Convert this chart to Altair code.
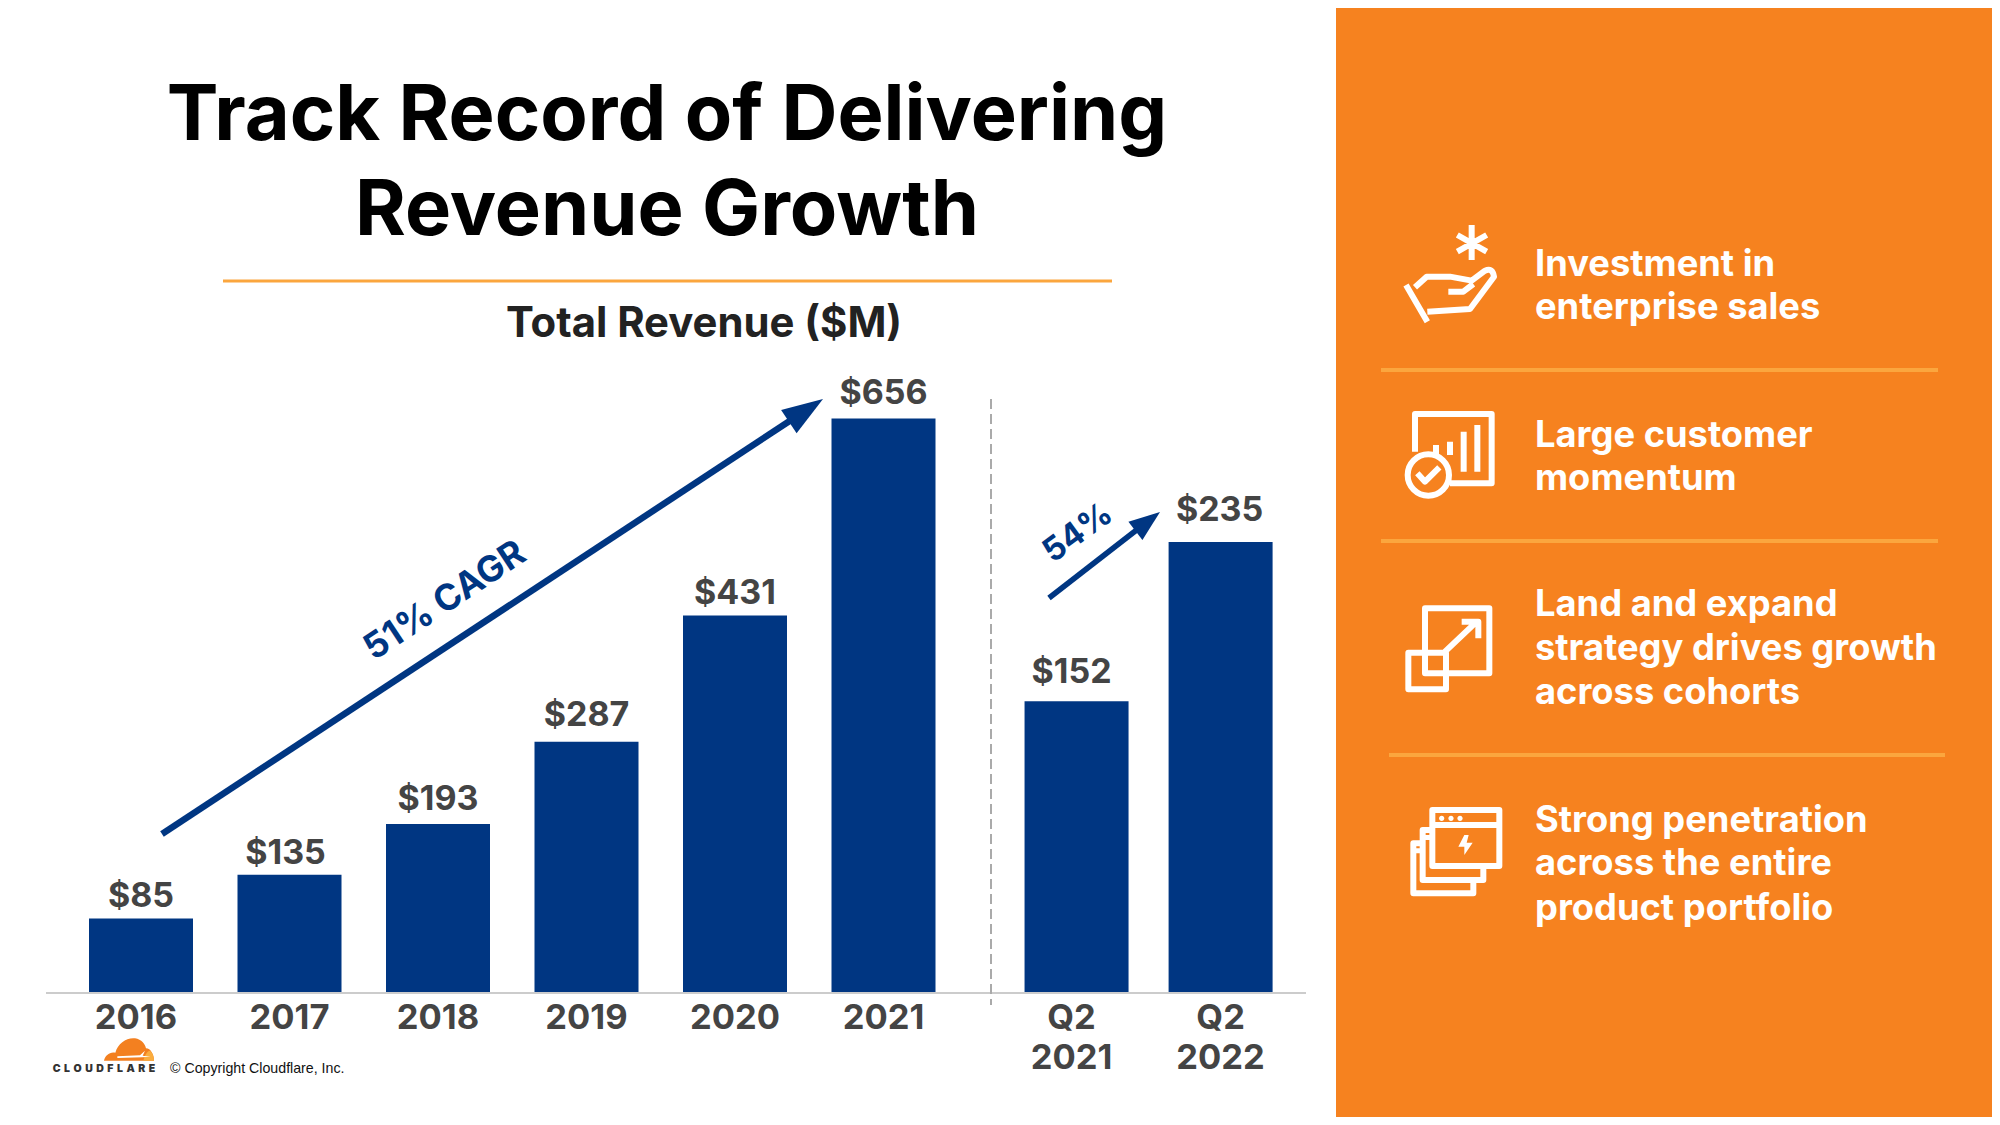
import altair as alt
import pandas as pd

# ---- values ----
years = ["2016", "2017", "2018", "2019", "2020", "2021"]
annual_revenue = [85, 135, 193, 287, 431, 656]
annual_slots = [0, 1, 2, 3, 4, 5]
quarters = ["Q2\n2021", "Q2\n2022"]
quarter_revenue = [152, 235]
quarter_slots = [6.30, 7.27]

# small hand placements of the labels in the reference, in pixels
annual_tick_nudge = [-5, 0, 0, 0, 0, 0]
quarter_tick_nudge = [-5, 0]
annual_value_nudge_x = [0, -4, 0, 0, 0, 0]
quarter_value_nudge_x = [-5, -1]
annual_value_nudge_y = [-1.3, -2.5, 1.3, 2.5, -1.3, 1.3]
quarter_value_nudge_y = [-1.3, 1.3]

# ---- page geometry: the chart starts after the page's 8px margin ----
OX, OY = 8, 8
W, H = 1984, 1109
BASE = 993 - OY
STEP = 148.5
ANNUAL_TOP = 418.5
QUARTER_TOP = 542
BLUE = "#003682"
GREY = "#444444"
ORANGE = "#F6821F"
LINE = "#FBA63E"
FONT = "Inter"

one = alt.Data(values=[{"a": 1}])

x_scale = alt.Scale(domain=[0, 7], range=[141 - OX, 141 - OX + 7 * STEP], zero=False, nice=False, padding=0)
y_annual = alt.Scale(domain=[0, 656], range=[BASE, ANNUAL_TOP - OY], zero=False, nice=False)
y_quarter = alt.Scale(domain=[0, 235], range=[BASE, QUARTER_TOP - OY], zero=False, nice=False)


def txt(s, x, y, size, color, align="center", weight=700, font=FONT, angle=0, **kw):
    return alt.Chart(alt.Data(values=[{"t": s}])).mark_text(
        fontSize=size, color=color, align=align, baseline="middle", fontWeight=weight,
        font=font, angle=angle, **kw
    ).encode(x=alt.value(x - OX), y=alt.value(y - OY), text="t:N")


def rule(x1, y1, x2, y2, color, width, **kw):
    return alt.Chart(one).mark_rule(color=color, strokeWidth=width, **kw).encode(
        x=alt.value(x1 - OX), x2=alt.value(x2 - OX), y=alt.value(y1 - OY), y2=alt.value(y2 - OY)
    )


def head(tipx, tipy, length, width, angle):
    path = f"M0,0 L{-width / 2},{length} L{width / 2},{length} Z"
    return alt.Chart(one).mark_point(
        shape=path, filled=True, fill=BLUE, size=4, angle=angle, opacity=1, strokeWidth=0
    ).encode(x=alt.value(tipx - OX), y=alt.value(tipy - OY))


def icon(path, ox, oy, filled=False, color="white", width=6):
    kw = dict(filled=True, fill=color, strokeWidth=0) if filled else dict(filled=False, stroke=color, strokeWidth=width)
    return alt.Chart(one).mark_point(
        shape=path, size=4 / 9, opacity=1, strokeJoin="round", **kw
    ).encode(x=alt.value(ox - OX), y=alt.value(oy - OY))


# ---- icons at 3x, drawn at 1/3 scale ----
HAND = ("M108,225 L172,335 M135,232 L170,200 L240,200 L305,212 L345,182 Q368,172 372,200 L300,297 L172,305 "
        "M235,245 L280,245 L310,222 M305,45 L305,150 M262,75 L350,125 M350,75 L262,125")
CHART = ("M135,725 L135,612 L365,612 L365,820 L240,820 M198,705 L198,735 M240,695 L240,735 M281,665 L281,785 "
         "M322,645 L322,785 M113,795 A62,62 0 1 1 237,795 A62,62 0 1 1 113,795 M142,790 L165,815 L208,772")
EXPAND = ("M165,55 L358,55 L358,250 L165,250 Z M115,188 L228,188 L228,298 L115,298 Z M225,185 L320,95 "
          "M275,95 L325,95 L325,145")
WINDOWS = ("M187,660 L388,660 L388,828 L187,828 Z M187,705 L388,705 M187,720 L158,720 L158,870 L340,870 L340,830 "
           "M158,760 L130,760 L130,910 L310,910 L310,870 M175,735 L175,750 M147,775 L147,790")
WINDOWS_FILL = ("M207,685 A8,8 0 1 1 223,685 A8,8 0 1 1 207,685 M235,685 A8,8 0 1 1 251,685 A8,8 0 1 1 235,685 "
                "M262,685 A8,8 0 1 1 278,685 A8,8 0 1 1 262,685 "
                "M283,735 L265,770 L283,770 L283,795 L308,758 L290,758 L296,735 Z")
CLOUD = ("M222,242 C225,226 240,214 256,218 C264,190 290,172 315,175 C335,178 345,192 348,205 "
         "C362,205 372,224 372,242 Z")
CLOUD_LIGHT = "M340,242 C344,226 352,212 360,212 C368,218 372,230 372,242 Z"
CLOUD_STREAK = "M262,229 L330,226 L345,212 L338,227 L362,230 L336,232 L262,234 Z"

# ---- background and frame ----
panel = alt.Chart(one).mark_rect(color=ORANGE).encode(
    x=alt.value(1336 - OX), x2=alt.value(W), y=alt.value(0), y2=alt.value(H)
)

layers = [panel]

# ---- headline ----
layers += [
    txt("Track Record of Delivering", 667, 117, 77.5, "#000000"),
    txt("Revenue Growth", 667, 212, 77.5, "#000000"),
    rule(223, 281, 1112, 281, LINE, 3),
    txt("Total Revenue ($M)", 704, 324, 41.8, "#222222"),
]


# ---- bars ----
def table(labels, revs, slots, tick_nudge, vx, vy, px_per_unit):
    df = pd.DataFrame({"label": labels, "rev": revs, "slot": slots})
    df["txt"] = ["$" + str(v) for v in revs]
    df["tick_slot"] = [s + n / STEP for s, n in zip(slots, tick_nudge)]
    df["value_slot"] = [s + n / STEP for s, n in zip(slots, vx)]
    df["value_level"] = [r + n / px_per_unit for r, n in zip(revs, vy)]
    return df


annual = table(years, annual_revenue, annual_slots, annual_tick_nudge,
               annual_value_nudge_x, annual_value_nudge_y, (993 - ANNUAL_TOP) / 656)
quarter = table(quarters, quarter_revenue, quarter_slots, quarter_tick_nudge,
                quarter_value_nudge_x, quarter_value_nudge_y, (993 - QUARTER_TOP) / 235)

for df, ys, lift in ((annual, y_annual, -13), (quarter, y_quarter, -19.5)):
    layers.append(alt.Chart(df).mark_bar(size=104, color=BLUE).encode(
        x=alt.X("slot:Q", scale=x_scale, axis=None),
        y=alt.Y("rev:Q", scale=ys, axis=None),
    ))
    layers.append(
        alt.Chart(df).mark_text(
            fontSize=34, fontWeight=700, font=FONT, color=GREY, baseline="alphabetic", dy=lift
        ).encode(
            x=alt.X("value_slot:Q", scale=x_scale, axis=None),
            y=alt.Y("value_level:Q", scale=ys, axis=None),
            text="txt:N",
        )
    )
    layers.append(
        alt.Chart(df).mark_text(
            fontSize=34.5, fontWeight=700, font=FONT, color=GREY, baseline="alphabetic",
            lineBreak="\n", lineHeight=40
        ).encode(
            x=alt.X("tick_slot:Q", scale=x_scale, axis=None),
            y=alt.value(1029 - OY),
            text="label:N",
        )
    )

# ---- baseline, divider, arrows ----
layers += [
    rule(46, 993, 1306, 993, "#CCCCCC", 2),
    rule(991, 399, 991, 1005, "#AAAAAA", 2, strokeDash=[10, 5]),
    rule(162, 834, 798, 415.5, BLUE, 6.5),
    head(823, 399, 41, 28, 56.4),
    rule(1049, 598, 1143, 525, BLUE, 5.5),
    head(1160, 512, 31, 23, 52.5),
    txt("51% CAGR", 445, 601, 36, BLUE, angle=326.5),
    txt("54%", 1078, 533, 33, BLUE, angle=324),
]

# ---- right panel ----
layers.append(rule(1381, 370, 1938, 370, LINE, 4))
layers.append(rule(1381, 541, 1938, 541, LINE, 4))
layers.append(rule(1389, 755, 1945, 755, LINE, 4))

panel_blocks = [
    (["Investment in", "enterprise sales"], [265, 308]),
    (["Large customer", "momentum"], [436, 479]),
    (["Land and expand", "strategy drives growth", "across cohorts"], [605, 649, 693]),
    (["Strong penetration", "across the entire", "product portfolio"], [821, 864, 909]),
]
for lines, ys_ in panel_blocks:
    for s, y in zip(lines, ys_):
        layers.append(txt(s, 1535, y, 36.3, "white", align="left"))

layers += [
    icon(HAND, 1370, 210),
    icon(CHART, 1370, 210),
    icon(EXPAND, 1370, 590),
    icon(WINDOWS, 1370, 590),
    icon(WINDOWS_FILL, 1370, 590, filled=True),
]

# ---- footer ----
layers += [
    icon(CLOUD, 30, 980, filled=True, color="#F38020"),
    icon(CLOUD_LIGHT, 30, 980, filled=True, color="#FAAD3F"),
    icon(CLOUD_STREAK, 30, 980, filled=True, color="white"),
    txt("C\u2004L\u2004O\u2004U\u2004D\u2004F\u2004L\u2004A\u2004R\u2004E", 104, 1069, 10.5, "#333333", weight=900),
    txt("© Copyright Cloudflare, Inc.", 170, 1069, 14.2, "#111111", align="left", weight=400, font="Liberation Sans"),
]

chart = (
    alt.layer(*layers)
    .resolve_scale(y="independent", x="shared")
    .properties(width=W, height=H, padding=0, autosize=alt.AutoSizeParams(type="none"), background="white")
    .configure_view(stroke=None)
)

chart.save("out.html", embed_options={"renderer": "svg", "actions": False})
